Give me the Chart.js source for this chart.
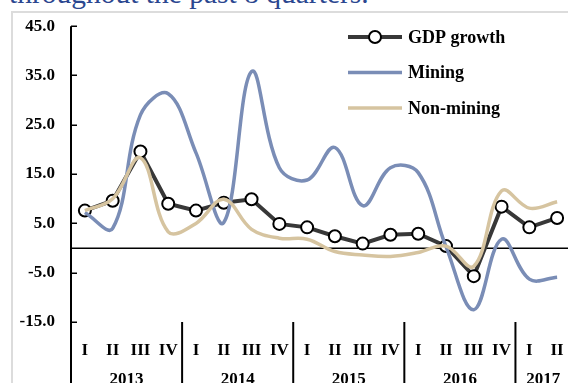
<!DOCTYPE html>
<html>
<head>
<meta charset="utf-8">
<script src="https://cdn.jsdelivr.net/npm/chart.js@4/dist/chart.umd.min.js"></script>
<style>
  html, body { margin: 0; padding: 0; width: 568px; height: 383px; overflow: hidden; background: #fff; }
  #frame { position: absolute; left: 11px; top: 11px; width: 620px; height: 420px; border: 2px solid #dcdcdc; box-sizing: border-box; }
  #heading { position: absolute; left: 9px; top: -21px; margin: 0; font: 29.5px "Liberation Serif", "Times New Roman", serif; line-height: 29.5px; color: #2b4790; white-space: nowrap; }
  #chart { position: absolute; left: 0; top: 0; }
</style>
</head>
<body>
<div id="frame"></div>
<p id="heading">throughout the past 8 quarters.</p>
<canvas id="chart" width="580" height="395"></canvas>
<script>
// Quarterly growth, % year on year, 2013 Q1 – 2017 Q2
const quarters = ['I','II','III','IV','I','II','III','IV','I','II','III','IV','I','II','III','IV','I','II'];
const years = ['2013','2014','2015','2016','2017'];
const yTicks = [45, 35, 25, 15, 5, -5, -15];

const gdpGrowth = [7.6, 9.6, 19.6, 9.0, 7.6, 9.2, 9.9, 4.9, 4.2, 2.4, 0.9, 2.7, 2.9, 0.4, -5.7, 8.4, 4.2, 6.1];
const mining    = [7.2, 4.0, 27.0, 31.3, 19.3, 5.2, 35.8, 16.3, 13.8, 20.4, 8.6, 16.3, 15.3, 0.3, -12.5, 1.8, -6.3, -5.9];
const nonMining = [7.6, 10.0, 18.3, 3.3, 5.0, 9.9, 3.8, 2.0, 1.8, -0.7, -1.4, -1.7, -0.9, 0.4, -3.7, 11.6, 8.1, 9.4];

const seriesNames = ['GDP growth', 'Mining', 'Non-mining'];

const FONT = '"Liberation Serif", "Times New Roman", serif';

// Axis lines, inner tick marks, zero line, grouped category labels and legend
const decorations = {
  id: 'decorations',
  beforeDatasetsDraw(chart) {
    const { ctx, chartArea: a, scales: { y } } = chart;
    ctx.save();
    ctx.strokeStyle = '#000';
    // zero line
    ctx.lineWidth = 1.5;
    const y0 = Math.round(y.getPixelForValue(0)) + 0.25;
    ctx.beginPath(); ctx.moveTo(a.left, y0); ctx.lineTo(a.right, y0); ctx.stroke();
    // vertical axis, running down through the category label band
    ctx.lineWidth = 2;
    ctx.beginPath(); ctx.moveTo(a.left, a.top); ctx.lineTo(a.left, chart.height); ctx.stroke();
    // tick marks pointing into the plot
    ctx.lineWidth = 1.5;
    yTicks.forEach(v => {
      const py = Math.round(y.getPixelForValue(v)) + 0.25;
      ctx.beginPath(); ctx.moveTo(a.left, py); ctx.lineTo(a.left + 6, py); ctx.stroke();
    });
    ctx.restore();
  },
  afterDraw(chart) {
    const { ctx, chartArea: a, scales: { x } } = chart;
    ctx.save();
    ctx.fillStyle = '#000';
    ctx.strokeStyle = '#000';
    ctx.font = 'bold 17px ' + FONT;
    ctx.textAlign = 'center';
    ctx.textBaseline = 'middle';
    // quarter labels
    quarters.forEach((q, i) => ctx.fillText(q, x.getPixelForValue(i), 351));
    // year labels and separators
    years.forEach((yr, k) => {
      const first = k * 4;
      const last = Math.min(first + 3, quarters.length - 1);
      const cx = (x.getPixelForValue(first) + x.getPixelForValue(last)) / 2;
      ctx.fillText(yr, cx, 380);
      if (k > 0) {
        const sx = (x.getPixelForValue(first - 1) + x.getPixelForValue(first)) / 2;
        ctx.lineWidth = 2;
        ctx.beginPath(); ctx.moveTo(sx, a.bottom); ctx.lineTo(sx, chart.height); ctx.stroke();
      }
    });
    // legend
    ctx.font = 'bold 18px ' + FONT;
    ctx.textAlign = 'left';
    chart.data.datasets.forEach((ds, i) => {
      const ly = 37 + i * 35.5;
      ctx.strokeStyle = ds.borderColor;
      ctx.lineWidth = ds.borderWidth;
      ctx.beginPath(); ctx.moveTo(348, ly); ctx.lineTo(402, ly); ctx.stroke();
      if (ds.pointRadius > 0) {
        ctx.beginPath();
        ctx.arc(375, ly, ds.pointRadius, 0, Math.PI * 2);
        ctx.fillStyle = ds.pointBackgroundColor;
        ctx.fill();
        ctx.lineWidth = ds.pointBorderWidth;
        ctx.strokeStyle = ds.pointBorderColor;
        ctx.stroke();
      }
      ctx.fillStyle = '#000';
      ctx.fillText(ds.label, 408, ly + 1);
    });
    ctx.restore();
  }
};

new Chart(document.getElementById('chart'), {
  type: 'line',
  data: {
    labels: quarters,
    datasets: [
      {
        label: seriesNames[0], data: gdpGrowth, order: 2,
        borderColor: '#383838', borderWidth: 4, tension: 0,
        pointRadius: 6, pointBackgroundColor: '#fff', pointBorderColor: '#000', pointBorderWidth: 2
      },
      {
        label: seriesNames[1], data: mining, order: 1,
        borderColor: '#7a8db6', borderWidth: 3.5, tension: 0.38, pointRadius: 0
      },
      {
        label: seriesNames[2], data: nonMining, order: 0,
        borderColor: '#d6c4a0', borderWidth: 3.5, tension: 0.38, pointRadius: 0
      }
    ]
  },
  options: {
    responsive: false,
    animation: false,
    devicePixelRatio: 1,
    layout: { padding: { left: 0, right: 9, top: 24, bottom: 73 } },
    plugins: { legend: { display: false }, tooltip: { enabled: false } },
    scales: {
      x: { display: false, offset: true },
      y: {
        min: -15, max: 45,
        afterBuildTicks(s) { s.ticks = yTicks.map(v => ({ value: v })); },
        afterFit(s) { s.width = 71; },
        grid: { display: false, drawTicks: false },
        border: { display: false },
        ticks: {
          padding: 16, color: '#000',
          font: { family: FONT, size: 17, weight: 'bold' },
          callback: v => v.toFixed(1)
        }
      }
    }
  },
  plugins: [decorations]
});
</script>
</body>
</html>
